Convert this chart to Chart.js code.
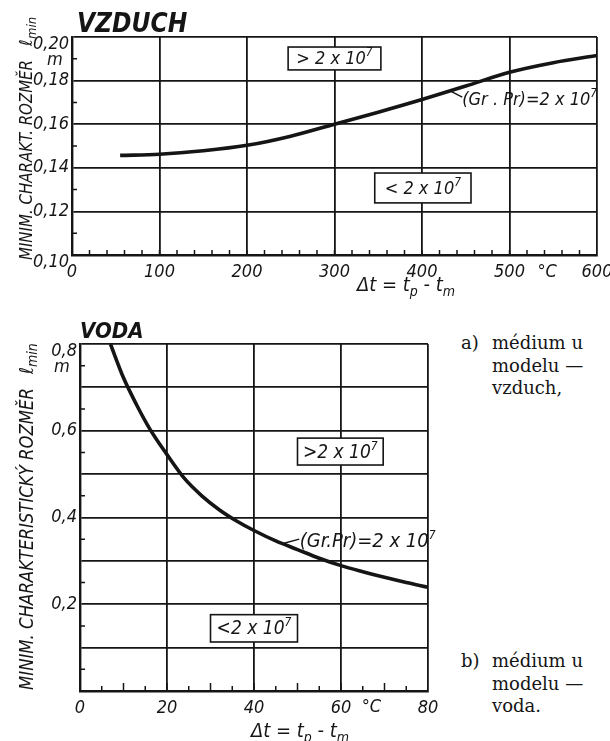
<!DOCTYPE html>
<html>
<head>
<meta charset="utf-8">
<script src="https://cdn.jsdelivr.net/npm/chart.js@4.4.0/dist/chart.umd.min.js"></script>
<style>
  body { margin: 0; background: #fff; width: 610px; height: 741px; position: relative; overflow: hidden; }
  canvas { position: absolute; }
  .note { position: absolute; font-family: 'DejaVu Serif', serif; font-size: 18px; line-height: 22.5px; color: #151515; }
  .note .k { position: absolute; left: 0; top: 0; }
  .note .t { padding-left: 31px; white-space: nowrap; }
</style>
</head>
<body>
<canvas id="air" width="610" height="300" style="left:0;top:0"></canvas>
<canvas id="water" width="460" height="441" style="left:0;top:300px"></canvas>
<div class="note" style="left:461px;top:332px"><span class="k">a)</span><div class="t">médium u<br>modelu —<br>vzduch,</div></div>
<div class="note" style="left:461px;top:650px"><span class="k">b)</span><div class="t">médium u<br>modelu —<br>voda.</div></div>
<script>
'use strict';

var INK = '#151515';
var LETTERING = "'Liberation Sans Narrow', 'DejaVu Sans Condensed', sans-serif";

// a) vzduch
var airDt = [55, 100, 150, 200, 250, 300, 350, 400, 450, 500, 550, 600];
var airLmin = [0.1457, 0.1462, 0.1478, 0.1503, 0.1545, 0.1600, 0.1655, 0.1713, 0.1775, 0.1838, 0.1882, 0.1915];
var airXTicks = [0, 100, 200, 300, 400, 500, 600];
var airXLabels = ['0', '100', '200', '300', '400', '500', '600'];
var airYTicks = [0.10, 0.12, 0.14, 0.16, 0.18, 0.20];
var airYLabels = ['0,10', '0,12', '0,14', '0,16', '0,18', '0,20'];

// b) voda
var waterDt = [7, 10, 13, 16, 20, 24, 28, 32, 36, 40, 45, 50, 55, 60, 65, 70, 75, 80];
var waterLmin = [0.80, 0.722, 0.66, 0.605, 0.545, 0.49, 0.45, 0.418, 0.392, 0.370, 0.346, 0.326, 0.306, 0.289, 0.275, 0.262, 0.250, 0.239];
var waterXTicks = [0, 20, 40, 60, 80];
var waterXLabels = ['0', '20', '40', '60', '80'];
var waterYTicks = [0, 0.1, 0.2, 0.3, 0.4, 0.5, 0.6, 0.7, 0.8];
var waterYLabels = ['', '', '0,2', '', '0,4', '', '0,6', '', '0,8'];

function font(size, bold) {
  return 'italic ' + (bold ? 'bold ' : '') + size + 'px ' + LETTERING;
}

// parts: [text, size, rise]
function drawRich(ctx, parts, x, y, align) {
  var w = 0;
  parts.forEach(function (p) { ctx.font = font(p[1]); w += ctx.measureText(p[0]).width; });
  var cx = align === 'center' ? x - w / 2 : x;
  parts.forEach(function (p) {
    ctx.font = font(p[1]);
    ctx.fillText(p[0], cx, y + (p[2] || 0));
    cx += ctx.measureText(p[0]).width;
  });
}

var sheetPlugin = {
  id: 'sheet',
  afterDraw: function (chart, args, o) {
    var ctx = chart.ctx;
    var xs = chart.scales.x, ys = chart.scales.y, area = chart.chartArea;
    var i, v, p, len;
    ctx.save();
    ctx.fillStyle = INK;
    ctx.strokeStyle = INK;

    // short ticks inside the frame
    ctx.lineWidth = 1.5;
    ctx.beginPath();
    for (i = 1; i * o.xMinor < xs.max; i++) {
      v = i * o.xMinor;
      p = xs.getPixelForValue(v);
      len = (o.xMid && v % o.xMid === 0) ? 8 : 5;
      ctx.moveTo(p, area.bottom);
      ctx.lineTo(p, area.bottom - len);
    }
    for (i = 0; ys.min + (i + 0.5) * o.yStep < ys.max; i++) {
      p = ys.getPixelForValue(ys.min + (i + 0.5) * o.yStep);
      ctx.moveTo(area.left, p);
      ctx.lineTo(area.left + 5, p);
    }
    ctx.stroke();

    // boxed region labels
    o.boxes.forEach(function (b) {
      var x0 = xs.getPixelForValue(b.x[0]), x1 = xs.getPixelForValue(b.x[1]);
      var y0 = ys.getPixelForValue(b.y[0]), y1 = ys.getPixelForValue(b.y[1]);
      ctx.fillStyle = '#fff';
      ctx.fillRect(x0, y0, x1 - x0, y1 - y0);
      ctx.lineWidth = 1.6;
      ctx.strokeRect(x0, y0, x1 - x0, y1 - y0);
      ctx.fillStyle = INK;
      ctx.textBaseline = 'alphabetic';
      drawRich(ctx, b.parts, (x0 + x1) / 2, (y0 + y1) / 2 + 6, 'center');
    });

    // curve label with leader
    var n = o.note;
    ctx.lineWidth = 1.4;
    ctx.beginPath();
    ctx.moveTo(xs.getPixelForValue(n.from[0]), ys.getPixelForValue(n.from[1]));
    ctx.lineTo(xs.getPixelForValue(n.to[0]), ys.getPixelForValue(n.to[1]));
    ctx.stroke();
    drawRich(ctx, n.parts, xs.getPixelForValue(n.at[0]), ys.getPixelForValue(n.at[1]) + 6, 'left');

    // panel title
    ctx.font = font(o.title.size, true);
    ctx.fillText(o.title.text, o.title.x, o.title.y);

    // unit under the top tick and degree sign on the x axis
    ctx.font = font(18);
    ctx.textAlign = 'center';
    ctx.fillText('m', o.unit.x, o.unit.y);
    ctx.textBaseline = 'top';
    ctx.fillText('°C', xs.getPixelForValue(o.degreeAt), area.bottom + o.degreeGap);
    ctx.textAlign = 'left';
    ctx.textBaseline = 'alphabetic';

    // axis titles
    drawRich(ctx, o.xTitle.parts, o.xTitle.x, o.xTitle.y, 'center');

    var yt = o.yTitle;
    ctx.translate(yt.x, yt.y);
    ctx.rotate(-Math.PI / 2);
    ctx.font = font(yt.size);
    ctx.fillText(yt.text, 0, 0, yt.len);
    ctx.fillText('ℓ', yt.len + yt.gap, 0);
    ctx.font = font(yt.size - 5);
    ctx.fillText('min', yt.len + yt.gap + 7, 4);
    ctx.restore();
  }
};

function buildChart(id, dt, lmin, xTicks, xLabels, yTicks, yLabels, frame, sheet) {
  return new Chart(document.getElementById(id), {
    type: 'line',
    data: {
      datasets: [{
        data: dt.map(function (x, i) { return { x: x, y: lmin[i] }; }),
        borderColor: INK,
        borderWidth: 3.6,
        pointRadius: 0,
        cubicInterpolationMode: 'monotone',
        fill: false
      }]
    },
    options: {
      responsive: false,
      animation: false,
      layout: { padding: { left: 0, top: frame.top, right: frame.right, bottom: 0 } },
      plugins: { legend: { display: false }, tooltip: { enabled: false }, sheet: sheet },
      scales: {
        x: {
          type: 'linear',
          min: xTicks[0],
          max: xTicks[xTicks.length - 1],
          afterBuildTicks: function (s) { s.ticks = xTicks.map(function (v) { return { value: v }; }); },
          afterFit: function (s) { s.height = frame.xAxis; s.paddingLeft = 0; s.paddingRight = 0; },
          grid: { color: INK, lineWidth: 1.8, drawTicks: false },
          border: { color: INK, width: 2.4 },
          ticks: {
            color: INK, padding: 7, maxRotation: 0, autoSkip: false,
            font: { family: LETTERING, size: 18, style: 'italic' },
            callback: function (v, i) { return xLabels[i]; }
          }
        },
        y: {
          type: 'linear',
          min: yTicks[0],
          max: yTicks[yTicks.length - 1],
          afterBuildTicks: function (s) { s.ticks = yTicks.map(function (v) { return { value: v }; }); },
          afterFit: function (s) { s.width = frame.yAxis; s.paddingTop = 0; s.paddingBottom = 0; },
          grid: { color: INK, lineWidth: 1.8, drawTicks: false },
          border: { color: INK, width: 2.4 },
          ticks: {
            color: INK, padding: 3, autoSkip: false,
            font: { family: LETTERING, size: 18, style: 'italic', lineHeight: 0.8 },
            callback: function (v, i, ticks) {
              var t = yLabels[i];
              return (t && (i === 0 || i === ticks.length - 1)) ? ['', t] : t;
            }
          }
        }
      }
    },
    plugins: [sheetPlugin]
  });
}

buildChart('air', airDt, airLmin, airXTicks, airXLabels, airYTicks, airYLabels,
  { top: 37, right: 13, xAxis: 45, yAxis: 72 },
  {
    xMinor: 20, xMid: 0, yStep: 0.02,
    boxes: [
      { x: [247, 353], y: [0.1954, 0.1849], parts: [['> 2 x 10', 18], ['7', 12, -8]] },
      { x: [346, 456], y: [0.1376, 0.1239], parts: [['< 2 x 10', 18], ['7', 12, -8]] }
    ],
    note: {
      from: [431, 0.1755], to: [446, 0.1724], at: [446, 0.1716],
      parts: [['(Gr . Pr)=2 x 10', 18], ['7', 12, -8]]
    },
    title: { text: 'VZDUCH', x: 77, y: 32, size: 26 },
    unit: { x: 55, y: 65 },
    degreeAt: 543, degreeGap: 8,
    xTitle: { x: 406, y: 291, parts: [['Δt = t', 20], ['p', 14, 5], [' - t', 20], ['m', 14, 5]] },
    yTitle: { text: 'MINIM. CHARAKT. ROZMĚR', x: 32, y: 260, size: 18, len: 200, gap: 14 }
  });

buildChart('water', waterDt, waterLmin, waterXTicks, waterXLabels, waterYTicks, waterYLabels,
  { top: 44, right: 32, xAxis: 50, yAxis: 80 },
  {
    xMinor: 5, xMid: 10, yStep: 0.1,
    boxes: [
      { x: [50, 69.7], y: [0.583, 0.521], parts: [['>2 x 10', 19], ['7', 12, -8]] },
      { x: [30, 50], y: [0.176, 0.113], parts: [['<2 x 10', 19], ['7', 12, -8]] }
    ],
    note: {
      from: [46.7, 0.340], to: [50.4, 0.350], at: [50.5, 0.346],
      parts: [['(Gr.Pr)=2 x 10', 20], ['7', 12, -8]]
    },
    title: { text: 'VODA', x: 80, y: 38, size: 22 },
    unit: { x: 62, y: 72 },
    degreeAt: 67, degreeGap: 7,
    xTitle: { x: 300, y: 437, parts: [['Δt = t', 20], ['p', 14, 5], [' - t', 20], ['m', 14, 5]] },
    yTitle: { text: 'MINIM. CHARAKTERISTICKÝ ROZMĚR', x: 33, y: 390, size: 19, len: 302, gap: 14 }
  });
</script>
</body>
</html>
